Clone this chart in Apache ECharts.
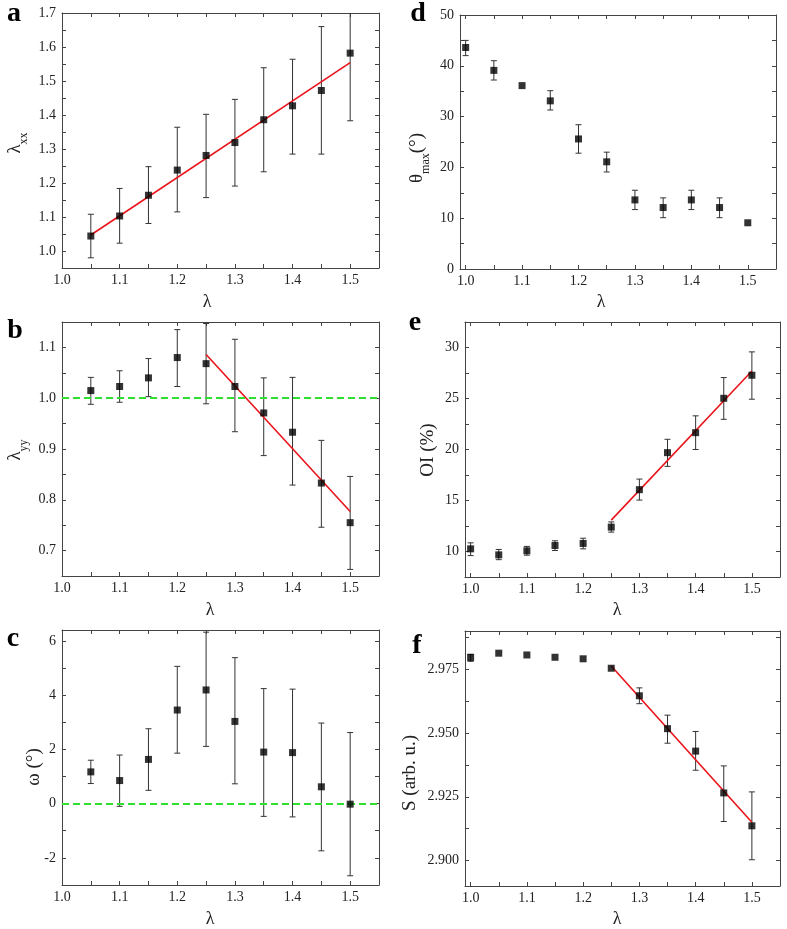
<!DOCTYPE html>
<html><head><meta charset="utf-8">
<script src="https://cdn.jsdelivr.net/npm/echarts@6/dist/echarts.min.js"></script>
<style>html,body{margin:0;padding:0;background:#fff}#c{width:787px;height:929px}</style>
</head><body><div id="c"></div>
<script>
// ---------- data ----------
const lamLeft = [1.05, 1.1, 1.15, 1.2, 1.25, 1.3, 1.35, 1.4, 1.45, 1.5];
const lamRight = [1.0, 1.05, 1.1, 1.15, 1.2, 1.25, 1.3, 1.35, 1.4, 1.45, 1.5];

// panel a : lambda_xx
const aVal = [1.044, 1.103, 1.164, 1.238, 1.281, 1.319, 1.386, 1.427, 1.472, 1.582];
const aLo  = [0.980, 1.023, 1.081, 1.115, 1.157, 1.191, 1.233, 1.285, 1.285, 1.383];
const aHi  = [1.108, 1.184, 1.248, 1.364, 1.402, 1.446, 1.539, 1.564, 1.660, 1.781];
const aFitX = [1.05, 1.5];
const aFitY = [1.047, 1.554];

// panel b : lambda_yy
const bVal = [1.015, 1.023, 1.040, 1.080, 1.068, 1.023, 0.971, 0.933, 0.833, 0.755];
const bLo  = [0.988, 0.992, 1.003, 1.023, 0.989, 0.934, 0.887, 0.829, 0.746, 0.663];
const bHi  = [1.041, 1.054, 1.078, 1.135, 1.147, 1.116, 1.040, 1.041, 0.917, 0.846];
const bFitX = [1.25, 1.5];
const bFitY = [1.086, 0.777];
const bRef = [1.0];

// panel c : omega
const cVal = [1.17, 0.85, 1.63, 3.45, 4.19, 3.03, 1.90, 1.88, 0.62, -0.02];
const cLo  = [0.74, -0.10, 0.49, 1.86, 2.11, 0.73, -0.47, -0.49, -1.74, -2.66];
const cHi  = [1.60, 1.79, 2.76, 5.06, 6.32, 5.38, 4.24, 4.22, 2.97, 2.62];
const cRef = [0];

// panel d : theta_max
const dVal = [43.6, 39.1, 36.1, 33.1, 25.6, 21.1, 13.6, 12.1, 13.6, 12.1, 9.1];
const dLo  = [42.0, 37.2, null, 31.3, 22.8, 19.1, 11.7, 10.1, 11.7, 10.1, null];
const dHi  = [45.0, 41.0, null, 35.1, 28.4, 23.0, 15.5, 14.0, 15.5, 14.0, null];

// panel e : OI
const eVal = [10.26, 9.67, 10.07, 10.59, 10.79, 12.39, 16.06, 19.69, 21.65, 25.02, 27.28];
const eLo  = [9.60, 9.20, 9.64, 10.10, 10.26, 11.90, 15.04, 18.35, 20.00, 22.96, 24.93];
const eHi  = [10.85, 10.20, 10.50, 11.05, 11.30, 12.90, 17.10, 21.00, 23.30, 27.05, 29.57];
const eFitX = [1.25, 1.5];
const eFitY = [13.08, 27.70];

// panel f : S
const fVal = [2.9796, 2.9813, 2.9806, 2.9797, 2.9791, 2.9754, 2.9646, 2.9517, 2.9429, 2.9265, 2.9136];
const fLo  = [2.9781, null, null, null, null, null, 2.9615, 2.9460, 2.9354, 2.9153, 2.9003];
const fHi  = [2.9809, null, null, null, null, null, 2.9677, 2.9570, 2.9506, 2.9371, 2.9269];
const fFitX = [1.25, 1.5];
const fFitY = [2.9763, 2.9150];

// tick labels / tick positions
const xLabels = [1.0, 1.1, 1.2, 1.3, 1.4, 1.5];
const xTicks  = [1.0, 1.05, 1.1, 1.15, 1.2, 1.25, 1.3, 1.35, 1.4, 1.45, 1.5, 1.55];
const aLabels = [1.0, 1.1, 1.2, 1.3, 1.4, 1.5, 1.6, 1.7];
const aTicks  = [0.95, 1.0, 1.05, 1.1, 1.15, 1.2, 1.25, 1.3, 1.35, 1.4, 1.45, 1.5, 1.55, 1.6, 1.65, 1.7];
const bLabels = [0.7, 0.8, 0.9, 1.0, 1.1];
const bTicks  = [0.65, 0.7, 0.75, 0.8, 0.85, 0.9, 0.95, 1.0, 1.05, 1.1, 1.15];
const cLabels = [-2, 0, 2, 4, 6];
const cTicks  = [-3, -2, -1, 0, 1, 2, 3, 4, 5, 6];
const dLabels = [0, 10, 20, 30, 40, 50];
const dTicks  = [0, 5, 10, 15, 20, 25, 30, 35, 40, 45, 50];
const eLabels = [10, 15, 20, 25, 30];
const eTicks  = [7.5, 10, 12.5, 15, 17.5, 20, 22.5, 25, 27.5, 30, 32.5];
const fLabels = [2.900, 2.925, 2.950, 2.975];
const fTicks  = [2.9, 2.9125, 2.925, 2.9375, 2.95, 2.9625, 2.975, 2.9875];

// ---------- build ----------
const FONT = 'Liberation Serif';
const AX = '#444';
const grids = [
  {left: 62, top: 13, width: 317, height: 255},
  {left: 62, top: 322, width: 317, height: 254},
  {left: 62, top: 630, width: 317, height: 255},
  {left: 460, top: 15, width: 316, height: 254},
  {left: 465, top: 322, width: 315, height: 255},
  {left: 465, top: 631, width: 315, height: 255}
];
const panels = [
  {xs: lamLeft, v: aVal, lo: aLo, hi: aHi, fit: [aFitX, aFitY], xmin: 1.0, xmax: 1.55, ymin: 0.95, ymax: 1.7, yl: aLabels, yt: aTicks, dec: 1},
  {xs: lamLeft, v: bVal, lo: bLo, hi: bHi, fit: [bFitX, bFitY], ref: bRef, xmin: 1.0, xmax: 1.55, ymin: 0.65, ymax: 1.15, yl: bLabels, yt: bTicks, dec: 1},
  {xs: lamLeft, v: cVal, lo: cLo, hi: cHi, ref: cRef, xmin: 1.0, xmax: 1.55, ymin: -3, ymax: 6.4, yl: cLabels, yt: cTicks, dec: 0},
  {xs: lamRight, v: dVal, lo: dLo, hi: dHi, xmin: 0.99, xmax: 1.55, ymin: 0, ymax: 50, yl: dLabels, yt: dTicks, dec: 0},
  {xs: lamRight, v: eVal, lo: eLo, hi: eHi, fit: [eFitX, eFitY], xmin: 0.99, xmax: 1.55, ymin: 7.5, ymax: 32.5, yl: eLabels, yt: eTicks, dec: 0},
  {xs: lamRight, v: fVal, lo: fLo, hi: fHi, fit: [fFitX, fFitY], xmin: 0.99, xmax: 1.55, ymin: 2.89, ymax: 2.99, yl: fLabels, yt: fTicks, dec: 3}
];

function axisCommon(labels, ticks, show, dec, isY) {
  return {
    type: 'value',
    axisLine: {show: true, onZero: false, lineStyle: {color: AX, width: 1}},
    axisTick: {show: true, inside: true, length: 4, customValues: ticks, lineStyle: {color: AX, width: 1}},
    axisLabel: {show: show, customValues: labels, margin: isY ? 6 : 5, color: '#222',
      fontFamily: FONT, fontSize: 14, formatter: v => (dec === 0 ? String(Math.round(v)).replace('-', '-') : Number(v).toFixed(dec))},
    splitLine: {show: false}
  };
}

const xAxis = [], yAxis = [], series = [];
panels.forEach((p, i) => {
  xAxis.push(Object.assign(axisCommon(xLabels, xTicks, true, 1, false), {gridIndex: i, min: p.xmin, max: p.xmax, position: 'bottom'}));
  xAxis.push(Object.assign(axisCommon(xLabels, xTicks, false, 1, false), {gridIndex: i, min: p.xmin, max: p.xmax, position: 'top'}));
  yAxis.push(Object.assign(axisCommon(p.yl, p.yt, true, p.dec, true), {gridIndex: i, min: p.ymin, max: p.ymax, position: 'left'}));
  yAxis.push(Object.assign(axisCommon(p.yl, p.yt, false, p.dec, true), {gridIndex: i, min: p.ymin, max: p.ymax, position: 'right'}));
  const xi = 2 * i, yi = 2 * i;
  // error bars
  const eb = [];
  p.xs.forEach((x, k) => { if (p.lo[k] != null && p.hi[k] != null) eb.push([x, p.lo[k], p.hi[k]]); });
  series.push({
    type: 'custom', xAxisIndex: xi, yAxisIndex: yi, clip: true, z: 3, silent: true,
    data: eb,
    renderItem: (params, api) => {
      const x = api.value(0);
      const a = api.coord([x, api.value(1)]), b = api.coord([x, api.value(2)]);
      const w = 3, st = {stroke: '#333', lineWidth: 1};
      return {type: 'group', children: [
        {type: 'line', shape: {x1: a[0], y1: a[1], x2: b[0], y2: b[1]}, style: st},
        {type: 'line', shape: {x1: a[0] - w, y1: a[1], x2: a[0] + w, y2: a[1]}, style: st},
        {type: 'line', shape: {x1: b[0] - w, y1: b[1], x2: b[0] + w, y2: b[1]}, style: st}
      ]};
    }
  });
  // reference dashed line
  if (p.ref) {
    series.push({
      type: 'line', xAxisIndex: xi, yAxisIndex: yi, data: [], z: 2, silent: true,
      markLine: {silent: true, symbol: 'none', label: {show: false},
        lineStyle: {color: '#2fe02f', type: [7, 4], width: 2},
        data: p.ref.map(r => ({yAxis: r}))}
    });
  }
  // fit line
  if (p.fit) {
    series.push({
      type: 'line', xAxisIndex: xi, yAxisIndex: yi, z: 4, silent: true, symbol: 'none',
      lineStyle: {color: '#e8141a', width: 1.6},
      data: p.fit[0].map((x, k) => [x, p.fit[1][k]])
    });
  }
  // points
  series.push({
    type: 'scatter', xAxisIndex: xi, yAxisIndex: yi, z: 5, silent: true,
    symbol: 'rect', symbolSize: 7, itemStyle: {color: '#000'},
    data: p.xs.map((x, k) => [x, p.v[k]])
  });
});

// texts
const letters = [['a', 14, 14], ['b', 15, 331], ['c', 13, 639], ['d', 418, 14], ['e', 415, 323], ['f', 417, 646]];
const xTitles = [[207, 302], [210, 610], [210, 919], [601, 302], [617, 610], [617, 919]];
const yTitles = [
  ['{m|λ}{s|xx}', 15, 143],
  ['{m|λ}{s|yy}', 15, 450],
  ['{m|ω (°)}', 34, 767],
  ['{m|θ}{s|max}{m|(°)}', 417, 158],
  ['{m|OI (%)}', 428, 450],
  ['{m|S (arb. u.)}', 410, 773]
];
const graphic = [];
letters.forEach(([t, x, y]) => graphic.push({type: 'text', x, y, style: {text: t, fontFamily: FONT, fontWeight: 'bold', fontSize: 28, fill: '#000', align: 'center', verticalAlign: 'middle'}}));
xTitles.forEach(([x, y]) => graphic.push({type: 'text', x, y, style: {text: 'λ', fontFamily: FONT, fontSize: 18, fill: '#222', align: 'center', verticalAlign: 'middle'}}));
yTitles.forEach(([t, x, y]) => graphic.push({type: 'text', x, y, rotation: Math.PI / 2, style: {
  text: t, align: 'center', verticalAlign: 'middle', fill: '#222',
  rich: {m: {fontFamily: FONT, fontSize: 19, lineHeight: 24, fill: '#222'}, s: {fontFamily: FONT, fontSize: 12, lineHeight: 30, verticalAlign: 'bottom', fill: '#222'}}
}}));

const chart = echarts.init(document.getElementById('c'), null, {renderer: 'canvas'});
chart.setOption({
  animation: false,
  backgroundColor: '#fff',
  grid: grids,
  xAxis, yAxis, series, graphic
});
</script>
</body></html>
